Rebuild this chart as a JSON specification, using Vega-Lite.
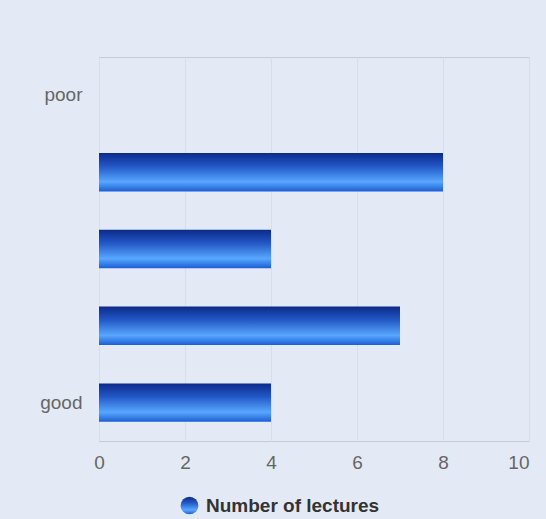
{
  "$schema": "https://vega.github.io/schema/vega-lite/v6.json",
  "autosize": {"type": "none"},
  "width": 430,
  "height": 384,
  "padding": {"left": 99, "top": 57, "right": 17, "bottom": 78},
  "background": "#e4eaf5",
  "config": {
    "font": "Liberation Sans",
    "view": {"stroke": "#c4ccd8", "strokeWidth": 1}
  },
  "data": {
    "values": [
      {"rating": "poor", "lectures": 0, "series": "Number of lectures"},
      {"rating": "2", "lectures": 8, "series": "Number of lectures"},
      {"rating": "3", "lectures": 4, "series": "Number of lectures"},
      {"rating": "4", "lectures": 7, "series": "Number of lectures"},
      {"rating": "good", "lectures": 4, "series": "Number of lectures"}
    ]
  },
  "mark": {
    "type": "bar",
    "fill": {
      "gradient": "linear",
      "x1": 0, "y1": 0, "x2": 0, "y2": 1,
      "stops": [
        {"offset": 0, "color": "#0b2a8a"},
        {"offset": 0.35, "color": "#2358c6"},
        {"offset": 0.75, "color": "#57a7ff"},
        {"offset": 1, "color": "#1c5fd2"}
      ]
    },
    "strokeWidth": 0
  },
  "encoding": {
    "y": {
      "field": "rating",
      "type": "nominal",
      "sort": null,
      "scale": {"domain": ["poor", "2", "3", "4", "good"], "paddingInner": 0.5, "paddingOuter": 0.25},
      "axis": {
        "title": null,
        "labelExpr": "datum.label == 'poor' || datum.label == 'good' ? datum.label : ''",
        "ticks": false,
        "domain": false,
        "grid": false,
        "labelPadding": 17,
        "labelFontSize": 19,
        "labelColor": "#666666"
      }
    },
    "x": {
      "field": "lectures",
      "type": "quantitative",
      "scale": {"domain": [0, 10], "nice": false},
      "axis": {
        "title": null,
        "values": [0, 2, 4, 6, 8, 10],
        "ticks": false,
        "domain": false,
        "grid": true,
        "gridColor": "#d9dde4",
        "labelPadding": 12,
        "labelFontSize": 19,
        "labelColor": "#666666",
        "labelFlush": false,
        "labelAlign": {"expr": "datum.value == 10 ? 'right' : 'center'"}
      }
    },
    "opacity": {
      "field": "series",
      "type": "nominal",
      "scale": {"range": [1]},
      "legend": {
        "title": null,
        "orient": "none",
        "legendX": 81,
        "legendY": 439,
        "symbolType": "circle",
        "symbolSize": 314,
        "symbolStrokeWidth": 0,
        "labelFontSize": 19,
        "labelFontWeight": "bold",
        "labelColor": "#333333",
        "labelOffset": 7,
        "labelLimit": 400,
        "encode": {
          "symbols": {
            "enter": {
              "fill": {"signal": "{gradient: 'linear', x1: 0, y1: 0, x2: 1, y2: 0, stops: [{offset: 0, color: '#4a92f2'}, {offset: 1, color: '#0b2a8a'}]}"}
            },
            "update": {
              "fill": {"signal": "{gradient: 'linear', x1: 0, y1: 0, x2: 1, y2: 0, stops: [{offset: 0, color: '#4a92f2'}, {offset: 1, color: '#0b2a8a'}]}"}
            }
          }
        }
      }
    }
  }
}
